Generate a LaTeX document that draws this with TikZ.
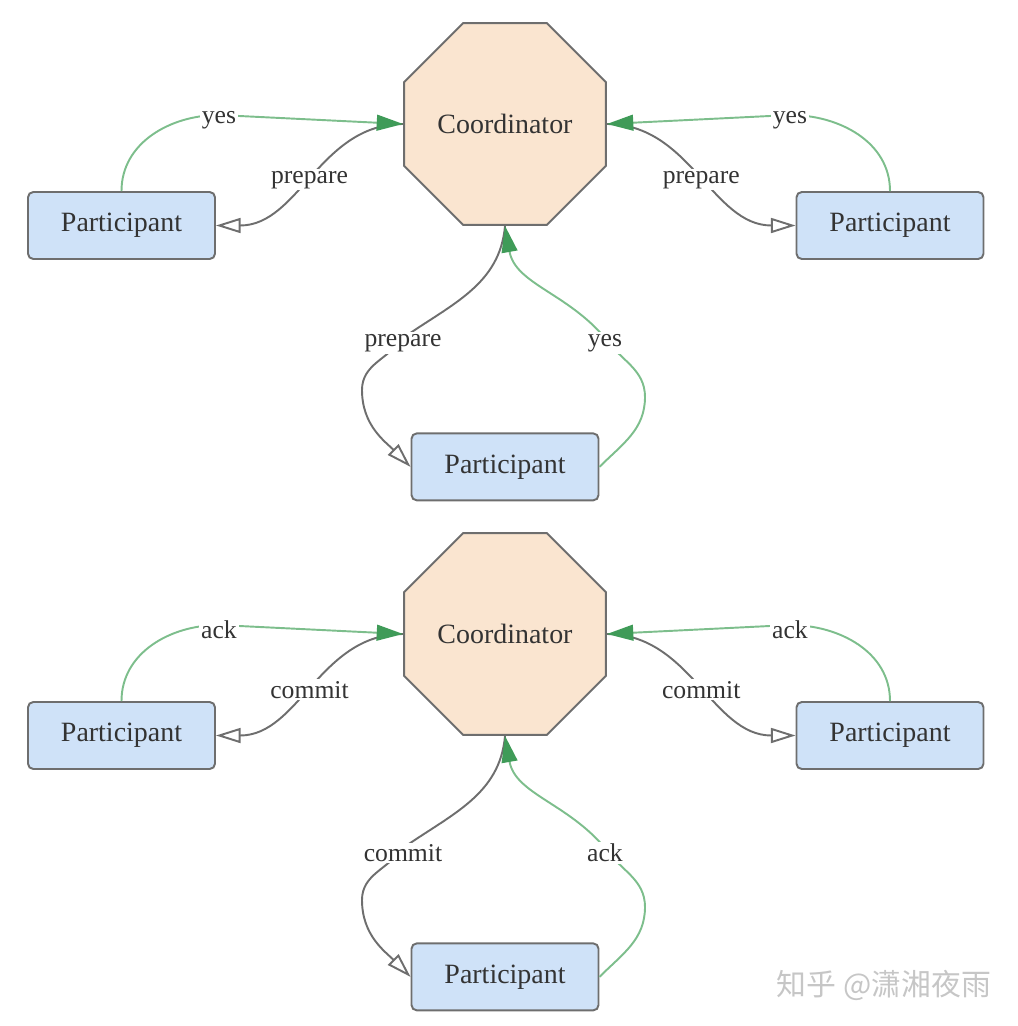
\documentclass[tikz,border=0pt]{standalone}
\usepackage{fontspec}
\setmainfont{Liberation Serif}
\newfontfamily\cjkfont{Noto Sans CJK SC}
\usetikzlibrary{shapes.geometric,arrows.meta,positioning}
\definecolor{peach}{HTML}{FAE5D0}
\definecolor{skyblue}{HTML}{CFE2F8}
\definecolor{edgegray}{HTML}{6E6E6E}
\definecolor{linegreen}{HTML}{7DBE8C}
\definecolor{tipgreen}{HTML}{3F9B58}
\definecolor{inkgray}{HTML}{333333}
\tikzset{
every picture/.style={
line width=1.1pt
},
coordinator/.style={
  regular polygon, regular polygon sides=8,
  minimum size=4.37cm, inner sep=0pt,
  draw=edgegray, fill=peach, text=inkgray,
  font=\fontsize{15.9}{18}\selectfont
  },
participant/.style={
  rectangle, rounded corners=3pt,
  minimum width=3.74cm, minimum height=1.34cm,
  draw=edgegray, fill=skyblue, text=inkgray,
  font=\fontsize{15.9}{18}\selectfont
  },
ask/.style={
  draw=edgegray,
  -{Triangle[open, length=14pt, width=8.5pt, fill=white]}
  },
reply/.style={
  draw=linegreen,
  -{Triangle[length=15pt, width=9pt, color=tipgreen]}
  },
msg/.style={
  fill=white, inner sep=1pt, yshift=-0.1cm, text=inkgray,
  font=\fontsize{14.6}{17}\selectfont
  }
}
\begin{document}
\begin{tikzpicture}
  \useasboundingbox (0,0) rectangle (20.36,-20.52);

  \foreach \n/\y/\ask/\reply in {1/0/prepare/yes, 2/-10.2/commit/ack} {
    \begin{scope}[yshift=\y cm]
      \node[coordinator] (c\n) at (10.10,-2.48) {Coordinator};

      \node[participant] (pl\n) at (2.43,-4.51) {Participant};
      \node[participant] (pr\n) at (17.80,-4.51) {Participant};
      \node[participant, below=4.13cm of c\n] (pb\n) {Participant};

      % left
      \draw[ask] (c\n.west) to[out=180, in=0] node[msg] (al\n) {\ask} (pl\n.east);
      \draw[reply] (pl\n.north) to[out=90, in=180] (4.38,-2.30) node[msg] (rl\n) {\reply} -- (c\n.west);

      % right
      \draw[ask] (c\n.east) to[out=0, in=180] node[msg] (ar\n) {\ask} (pr\n.west);
      \draw[reply] (pr\n.north) to[out=90, in=0] (15.80,-2.30) node[msg] (rr\n) {\reply} -- (c\n.east);

      % below
      \draw[ask] (c\n.south) to[out=-95, in=35] (8.06,-6.76) node[msg] (ab\n) {\ask}
        to[out=-125, in=90] (7.24,-7.80) to[out=-90, in=135] (pb\n.west);
      \draw[reply] (pb\n.east) to[out=45, in=-90] (12.90,-7.94) to[out=90, in=-55] (12.10,-6.76) node[msg] (rb\n) {\reply}
        to[out=130, in=-80] (c\n.south);
    \end{scope}
  }

  \node[text=gray!45, font=\cjkfont\fontsize{17}{20}\selectfont] (mark) at (17.68,-19.70) {知乎 @潇湘夜雨};
\end{tikzpicture}
\end{document}
